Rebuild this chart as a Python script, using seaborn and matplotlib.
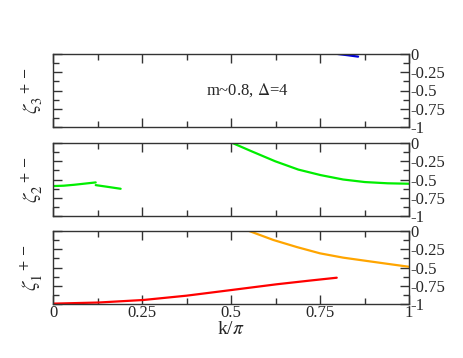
import matplotlib
matplotlib.use("Agg")
import matplotlib.pyplot as plt
import seaborn as sns
import pandas as pd
from matplotlib.ticker import MultipleLocator

# values (k/pi, zeta)
zeta3_blue_k = [0.80, 0.83, 0.857]
zeta3_blue_v = [0.0, -0.018, -0.036]

zeta2_a_k = [0.0, 0.03, 0.06, 0.09, 0.12]
zeta2_a_v = [-0.59, -0.585, -0.572, -0.556, -0.54]
zeta2_b_k = [0.12, 0.15, 0.19]
zeta2_b_v = [-0.577, -0.598, -0.627]
zeta2_c_k = [0.504, 0.558, 0.624, 0.689, 0.752, 0.815, 0.876, 0.94, 1.0]
zeta2_c_v = [0.0, -0.114, -0.25, -0.364, -0.44, -0.50, -0.535, -0.552, -0.558]

zeta1_red_k = [0.0, 0.127, 0.254, 0.375, 0.502, 0.628, 0.72, 0.797]
zeta1_red_v = [-0.995, -0.98, -0.945, -0.886, -0.808, -0.73, -0.68, -0.64]
zeta1_orange_k = [0.551, 0.619, 0.685, 0.75, 0.815, 0.881, 0.94, 1.0]
zeta1_orange_v = [0.0, -0.123, -0.22, -0.306, -0.365, -0.41, -0.45, -0.49]

ytick_vals = [0, -0.25, -0.5, -0.75, -1]
ytick_labels = ["0", "-0.25", "-0.5", "-0.75", "-1"]
xtick_vals = [0, 0.25, 0.5, 0.75, 1]
xtick_labels = ["0", "0.25", "0.5", "0.75", "1"]

sns.set_style("ticks")
plt.rcParams["font.family"] = "serif"
plt.rcParams["font.serif"] = ["Liberation Serif", "DejaVu Serif"]
plt.rcParams["mathtext.fontset"] = "stix"

fig = plt.figure(figsize=(4.63, 3.58), dpi=100)
W, H = 463, 358
left, right = 53 / W, 409 / W
panels = [(54, 127), (143, 216), (231, 304)]
axes = []
for top, bot in panels:
    ax = fig.add_axes([left, 1 - bot / H, right - left, (bot - top) / H])
    axes.append(ax)

def seg(ax, k, v, color):
    df = pd.DataFrame({"k": k, "v": v})
    sns.lineplot(data=df, x="k", y="v", ax=ax, color=color, lw=1.6, sort=False)

seg(axes[0], zeta3_blue_k, zeta3_blue_v, "#0000dd")
seg(axes[1], zeta2_a_k, zeta2_a_v, "#00ee00")
seg(axes[1], zeta2_b_k, zeta2_b_v, "#00ee00")
seg(axes[1], zeta2_c_k, zeta2_c_v, "#00ee00")
seg(axes[2], zeta1_red_k, zeta1_red_v, "#ff0000")
seg(axes[2], zeta1_orange_k, zeta1_orange_v, "#ffa500")

names = [r"$\zeta_3^{\ \ +-}$", r"$\zeta_2^{\ \ +-}$", r"$\zeta_1^{\ \ +-}$"]
for i, ax in enumerate(axes):
    ax.set_xlim(0, 1)
    ax.set_ylim(-1, 0)
    ax.xaxis.set_major_locator(MultipleLocator(0.25))
    ax.xaxis.set_minor_locator(MultipleLocator(0.125))
    ax.set_yticks(ytick_vals)
    ax.yaxis.set_minor_locator(MultipleLocator(0.125))
    ax.set_yticklabels(ytick_labels)
    ax.tick_params(which="both", direction="in", top=True, bottom=True,
                   left=True, right=True, labelleft=False, labelright=True,
                   labelsize=12, width=1.0, color="#333333", pad=1)
    ax.tick_params(which="major", length=6.5)
    ax.tick_params(which="minor", length=4)
    for s in ax.spines.values():
        s.set_linewidth(1.0)
        s.set_color("#333333")
    ax.set_ylabel(names[i], fontsize=15, labelpad=6)
    if i < 2:
        ax.set_xlabel("")
        ax.set_xticklabels([])
    else:
        ax.set_xticks(xtick_vals)
        ax.set_xticklabels(xtick_labels)
        ax.set_xlabel(r"k/$\pi$", fontsize=14, labelpad=0)

axes[0].text(0.545, -0.5, r"m~0.8, $\Delta$=4", ha="center", va="center",
             fontsize=12)

fig.savefig("out.png", dpi=100)
